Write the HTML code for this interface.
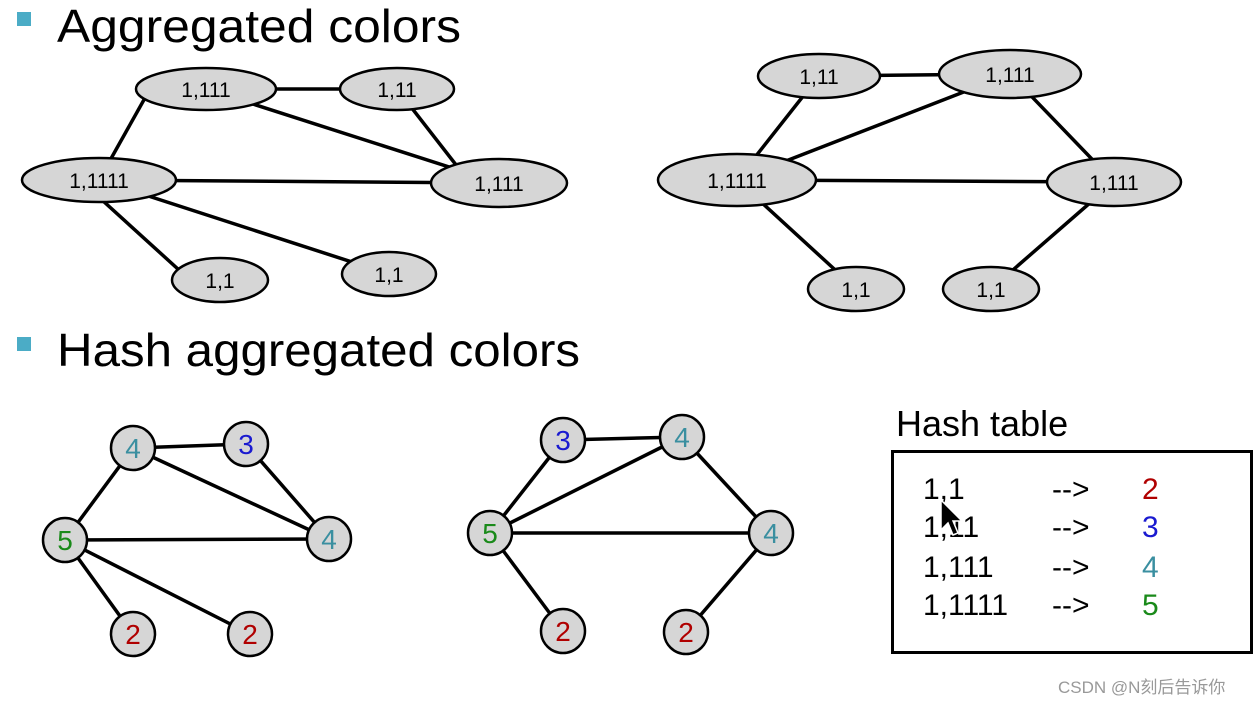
<!DOCTYPE html>
<html><head><style>html,body{margin:0;padding:0;background:#fff;}svg{display:block}</style></head>
<body>
<svg width="1258" height="704" xmlns="http://www.w3.org/2000/svg" font-family="Liberation Sans, sans-serif">
<rect x="17" y="12" width="14" height="14" fill="#4bacc6"/>
<text x="57" y="42" font-size="46" textLength="404" lengthAdjust="spacingAndGlyphs">Aggregated colors</text>
<rect x="17" y="337" width="14" height="14" fill="#4bacc6"/>
<text x="57" y="366" font-size="46" textLength="523" lengthAdjust="spacingAndGlyphs">Hash aggregated colors</text>
<g stroke="#000" stroke-width="3.5" fill="none">
<line x1="206" y1="89" x2="397" y2="89"/><line x1="206" y1="89" x2="499" y2="183"/>
<line x1="150" y1="89" x2="99" y2="180"/><line x1="397" y1="89" x2="460" y2="170"/>
<line x1="99" y1="180" x2="499" y2="183"/><line x1="80" y1="180" x2="190" y2="280"/>
<line x1="99" y1="180" x2="389" y2="274"/>
<line x1="819" y1="76" x2="1010" y2="74"/><line x1="819" y1="76" x2="737" y2="180"/>
<line x1="1010" y1="74" x2="737" y2="180"/><line x1="1010" y1="74" x2="1114" y2="182"/>
<line x1="737" y1="180" x2="1114" y2="182"/><line x1="737" y1="180" x2="856" y2="289"/>
<line x1="1114" y1="182" x2="991" y2="289"/>
<line x1="133" y1="448" x2="246" y2="444"/><line x1="133" y1="448" x2="65" y2="540"/>
<line x1="133" y1="448" x2="329" y2="539"/><line x1="246" y1="444" x2="329" y2="539"/>
<line x1="65" y1="540" x2="329" y2="539"/><line x1="65" y1="540" x2="133" y2="634"/>
<line x1="65" y1="540" x2="250" y2="634"/>
<line x1="563" y1="440" x2="682" y2="437"/><line x1="563" y1="440" x2="490" y2="533"/>
<line x1="682" y1="437" x2="490" y2="533"/><line x1="682" y1="437" x2="771" y2="533"/>
<line x1="490" y1="533" x2="771" y2="533"/><line x1="490" y1="533" x2="563" y2="631"/>
<line x1="771" y1="533" x2="686" y2="632"/>
</g>
<g fill="#d6d6d6" stroke="#000" stroke-width="2.5">
<ellipse cx="206" cy="89" rx="70" ry="21"/><ellipse cx="397" cy="89" rx="57" ry="21"/>
<ellipse cx="99" cy="180" rx="77" ry="22"/><ellipse cx="499" cy="183" rx="68" ry="24"/>
<ellipse cx="220" cy="280" rx="48" ry="22"/><ellipse cx="389" cy="274" rx="47" ry="22"/>
<ellipse cx="819" cy="76" rx="61" ry="22"/><ellipse cx="1010" cy="74" rx="71" ry="24"/>
<ellipse cx="737" cy="180" rx="79" ry="26"/><ellipse cx="1114" cy="182" rx="67" ry="24"/>
<ellipse cx="856" cy="289" rx="48" ry="22"/><ellipse cx="991" cy="289" rx="48" ry="22"/>
<circle cx="133" cy="448" r="22"/><circle cx="246" cy="444" r="22"/><circle cx="65" cy="540" r="22"/>
<circle cx="329" cy="539" r="22"/><circle cx="133" cy="634" r="22"/><circle cx="250" cy="634" r="22"/>
<circle cx="563" cy="440" r="22"/><circle cx="682" cy="437" r="22"/><circle cx="490" cy="533" r="22"/>
<circle cx="771" cy="533" r="22"/><circle cx="563" cy="631" r="22"/><circle cx="686" cy="632" r="22"/>
</g>
<g font-size="21" text-anchor="middle" fill="#000">
<text x="206" y="97">1,111</text><text x="397" y="97">1,11</text><text x="99" y="188">1,1111</text>
<text x="499" y="191">1,111</text><text x="220" y="288">1,1</text><text x="389" y="282">1,1</text>
<text x="819" y="84">1,11</text><text x="1010" y="82">1,111</text><text x="737" y="188">1,1111</text>
<text x="1114" y="190">1,111</text><text x="856" y="297">1,1</text><text x="991" y="297">1,1</text>
</g>
<g font-size="28" text-anchor="middle">
<text x="133" y="458" fill="#3a8fa0">4</text><text x="246" y="454" fill="#1a1ad0">3</text>
<text x="65" y="550" fill="#1a8a1a">5</text><text x="329" y="549" fill="#3a8fa0">4</text>
<text x="133" y="644" fill="#b00000">2</text><text x="250" y="644" fill="#b00000">2</text>
<text x="563" y="450" fill="#1a1ad0">3</text><text x="682" y="447" fill="#3a8fa0">4</text>
<text x="490" y="543" fill="#1a8a1a">5</text><text x="771" y="543" fill="#3a8fa0">4</text>
<text x="563" y="641" fill="#b00000">2</text><text x="686" y="642" fill="#b00000">2</text>
</g>
<text x="896" y="436" font-size="36">Hash table</text>
<rect x="892.5" y="451.5" width="359" height="201" fill="none" stroke="#000" stroke-width="3"/>
<g font-size="30">
<text x="923" y="499">1,1</text><text x="1052" y="499">--&gt;</text><text x="1142" y="499" fill="#b00000">2</text>
<text x="923" y="537">1,11</text><text x="1052" y="537">--&gt;</text><text x="1142" y="537" fill="#1a1ad0">3</text>
<text x="923" y="577">1,111</text><text x="1052" y="577">--&gt;</text><text x="1142" y="577" fill="#3a8fa0">4</text>
<text x="923" y="615">1,1111</text><text x="1052" y="615">--&gt;</text><text x="1142" y="615" fill="#1a8a1a">5</text>
</g>
<path d="M941 500 L941 530 L948 523 L953 535 L958 533 L953 521 L962 521 Z" fill="#000" stroke="#fff" stroke-width="1.5"/>
<text x="1058" y="693" font-size="17" fill="#999" font-family="Liberation Sans, Noto Sans CJK SC, sans-serif">CSDN @N刻后告诉你</text>
</svg>
</body></html>
